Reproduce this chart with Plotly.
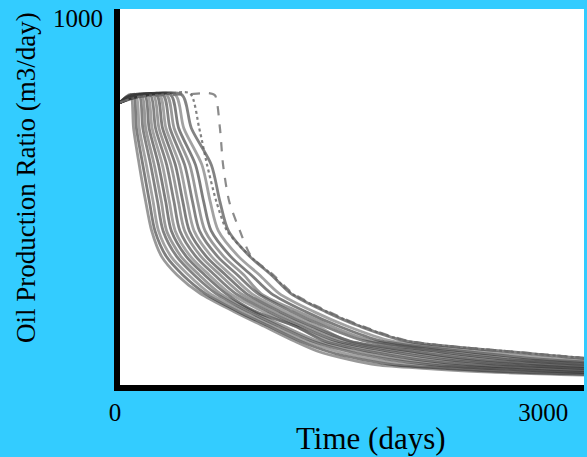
import plotly.graph_objects as go

# Rate levels (m3/day) shared by the ensemble curves
LEVELS = [770, 785, 792, 700, 600, 500, 420, 350, 300, 250, 200, 160, 120, 90, 70, 55, 45, 35, 27]

# Time (days) at which each realisation reaches the rate levels above
c01 = [0, 40, 75, 95, 135, 180, 222, 292, 400, 560, 800, 1010, 1220, 1400, 1600, 1800, 2150, 2600, 3250]
c02 = [0, 44, 93, 115, 160, 206, 245, 325, 440, 595, 830, 1045, 1260, 1470, 1690, 1920, 2290, 2770, 3440]
c03 = [0, 48, 110, 135, 185, 232, 270, 358, 480, 628, 865, 1075, 1300, 1535, 1775, 2040, 2435, 2940, 3625]
c04 = [0, 53, 132, 160, 215, 263, 302, 398, 520, 670, 900, 1115, 1345, 1615, 1880, 2185, 2605, 3145, 3850]
c05 = [0, 57, 150, 180, 240, 290, 327, 428, 555, 700, 935, 1150, 1385, 1685, 1970, 2305, 2750, 3315, 4040]
c06 = [0, 62, 171, 204, 270, 320, 360, 465, 593, 740, 950, 1230, 1430, 1765, 2075, 2450, 2920, 3520, 4260]
c07 = [0, 66, 189, 225, 297, 346, 387, 495, 625, 770, 1005, 1225, 1470, 1830, 2160, 2570, 3060, 3690, 4450]
c08 = [0, 70, 210, 249, 327, 378, 420, 532, 663, 808, 1043, 1265, 1515, 1913, 2265, 2710, 3235, 3890, 4675]
c09 = [0, 75, 231, 273, 357, 409, 453, 568, 702, 845, 1082, 1305, 1563, 1994, 2370, 2855, 3405, 4095, 4900]
c10 = [0, 80, 253, 298, 388, 440, 486, 605, 740, 883, 1120, 1345, 1610, 2075, 2475, 3000, 3575, 4300, 5125]
c11 = [0, 85, 274, 322, 418, 471, 519, 642, 778, 920, 1158, 1385, 1600, 2156, 2580, 3144, 3746, 4504, 5350]
c12 = [0, 90, 299, 350, 453, 508, 557, 684, 823, 964, 1203, 1432, 1711, 2251, 2703, 3312, 3946, 4742, 5613]
c13 = [0, 96, 324, 379, 489, 544, 596, 727, 868, 985, 1248, 1479, 1766, 2345, 2825, 3480, 4145, 4980, 5875]
c14 = [0, 102, 352, 411, 529, 586, 639, 776, 919, 1058, 1299, 1533, 1828, 2453, 2965, 3672, 4373, 5252, 6175]
c15 = [0, 110, 384, 447, 574, 632, 689, 831, 977, 1114, 1357, 1593, 1899, 2575, 3123, 3888, 4630, 5558, 6513]
c16 = [0, 120, 430, 500, 640, 700, 760, 910, 1060, 1195, 1440, 1680, 2000, 2750, 3350, 4200, 5000, 6000, 7000]
SOLID_CURVES = [c01, c02, c03, c04, c05, c06, c07, c08, c09, c10, c11, c12, c13, c14, c15, c16]

# Dotted realisation
DOT_T = [0, 120, 300, 490, 555, 610, 675, 750, 915, 1065, 1200, 1450, 1690, 2010, 2760, 3360]
DOT_Q = [770, 785, 792, 795, 700, 600, 500, 420, 350, 300, 250, 200, 160, 120, 90, 70]

# Dashed realisation
DASH_T = [0, 120, 300, 500, 618, 665, 700, 722, 765, 840, 920, 1075, 1210, 1460, 1700, 2020, 2780, 3380]
DASH_Q = [770, 785, 790, 793, 796, 790, 700, 600, 500, 420, 350, 300, 250, 200, 160, 120, 90, 70]

X_TICKS = [0, 3000]
X_TICK_TEXT = ["0", "3000"]
Y_TICKS = [1000]
Y_TICK_TEXT = ["1000"]

SERIF = "Liberation Serif, Times New Roman, serif"

fig = go.Figure()
shades = ["rgba(70,70,70,0.55)", "rgba(40,40,40,0.6)", "rgba(100,100,100,0.6)", "rgba(30,30,30,0.55)"]
for i, times in enumerate(SOLID_CURVES):
    fig.add_trace(go.Scatter(
        x=times, y=LEVELS, mode="lines",
        line=dict(color=shades[i % len(shades)], width=2.8, shape="spline", smoothing=0.8),
        showlegend=False, hoverinfo="skip"))

fig.add_trace(go.Scatter(
    x=DOT_T, y=DOT_Q, mode="lines",
    line=dict(color="rgba(100,100,100,0.8)", width=2.2, dash="dot", shape="spline", smoothing=0.7),
    showlegend=False, hoverinfo="skip"))
fig.add_trace(go.Scatter(
    x=DASH_T, y=DASH_Q, mode="lines",
    line=dict(color="rgba(110,110,110,0.8)", width=2.2, dash="dash", shape="spline", smoothing=0.7),
    showlegend=False, hoverinfo="skip"))

fig.update_layout(
    width=587, height=457,
    margin=dict(l=120, r=3, t=9, b=72),
    paper_bgcolor="#33CCFF",
    plot_bgcolor="white",
    font=dict(family=SERIF, color="black"),
    xaxis=dict(range=[0, 3250], showgrid=False, zeroline=False, automargin=False,
               showline=True, linecolor="black", linewidth=6,
               tickvals=X_TICKS, ticktext=X_TICK_TEXT, ticks="",
               tickfont=dict(family=SERIF, size=25, color="black"),
               ticklabelshift=-5, ticklabelstandoff=0),
    yaxis=dict(range=[0, 1025], showgrid=False, zeroline=False, automargin=False,
               showline=True, linecolor="black", linewidth=6,
               tickvals=Y_TICKS, ticktext=Y_TICK_TEXT, ticks="",
               tickfont=dict(family=SERIF, size=25, color="black"),
               ticklabelstandoff=6),
    annotations=[
        dict(text="Time (days)", xref="paper", yref="paper",
             x=(371 - 120) / 464, y=-(438 - 385) / 376, xanchor="center", yanchor="middle",
             showarrow=False, font=dict(family=SERIF, size=31, color="black")),
        dict(text="Oil Production Ratio (m3/day)", xref="paper", yref="paper",
             x=-(120 - 26) / 464, y=(385 - 178) / 376, xanchor="center", yanchor="middle",
             textangle=-90, showarrow=False, font=dict(family=SERIF, size=27, color="black")),
    ],
)

fig.write_html("out.html", config={"displayModeBar": False},
               post_script="document.body.style.margin='0';document.body.style.overflow='hidden';")
